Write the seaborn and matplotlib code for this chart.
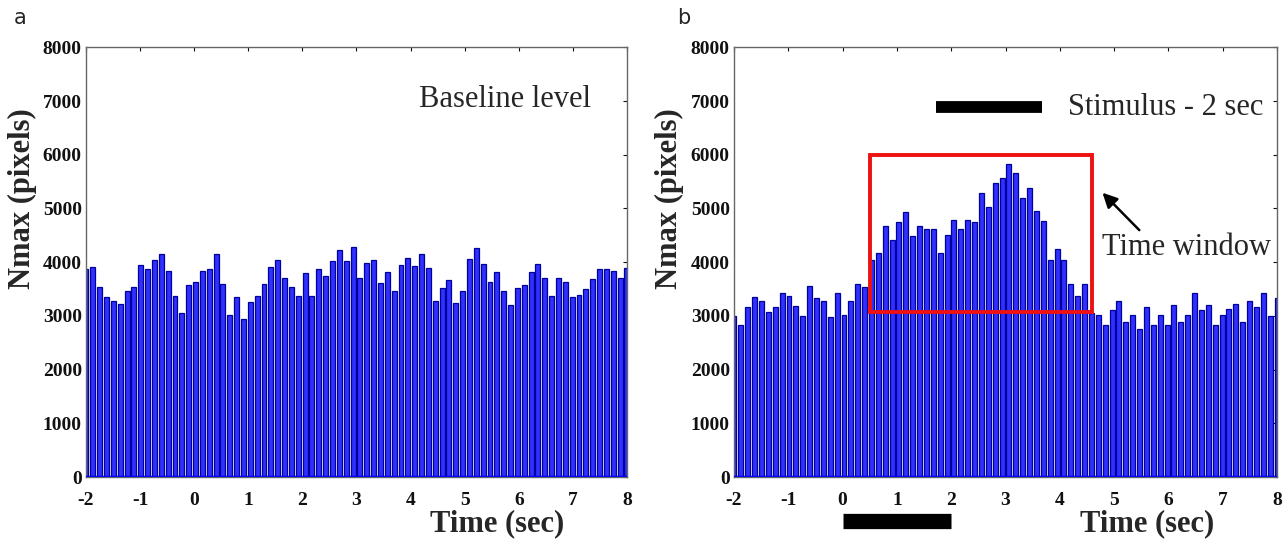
import numpy as np
import matplotlib
matplotlib.use('Agg')
import matplotlib.pyplot as plt
import matplotlib.transforms as mtransforms
from matplotlib.patches import Rectangle
import seaborn as sns

# Nmax per frame (80 frames from -2 s to 8 s)
baseline_vals = [3875, 3906, 3544, 3344, 3281, 3219, 3469, 3544, 3956, 3875,
                 4050, 4144, 3844, 3375, 3063, 3575, 3638, 3844, 3875, 4144,
                 3594, 3013, 3356, 2938, 3263, 3375, 3594, 3906, 4044, 3706,
                 3531, 3375, 3800, 3375, 3875, 3750, 4031, 4231, 4019, 4281,
                 3706, 3988, 4044, 3606, 3813, 3469, 3950, 4081, 3938, 4144,
                 3888, 3281, 3519, 3669, 3238, 3469, 4063, 4263, 3969, 3625,
                 3813, 3469, 3200, 3519, 3581, 3825, 3969, 3706, 3375, 3706,
                 3625, 3344, 3394, 3500, 3688, 3875, 3875, 3831, 3706, 3888]

stimulus_vals = [2990, 2835, 3159, 3346, 3283, 3065, 3159, 3427, 3364, 3177,
                 2990, 3551, 3333, 3283, 2972, 3427, 3009, 3283, 3601, 3539,
                 4037, 4174, 4673, 4405, 4754, 4940, 4486, 4673, 4610, 4610,
                 4174, 4498, 4785, 4623, 4785, 4754, 5296, 5034, 5470, 5563,
                 5825, 5657, 5202, 5389, 4953, 4766, 4050, 4237, 4050, 3601,
                 3364, 3601, 3050, 3022, 2835, 3115, 3283, 2885, 3022, 2754,
                 3159, 2835, 3022, 2835, 3196, 2878, 3022, 3427, 3115, 3196,
                 2835, 3022, 3134, 3221, 2878, 3283, 3159, 3427, 2990, 3333]

time_a = np.linspace(-2, 8, len(baseline_vals))
time_b = np.linspace(-2, 8, len(stimulus_vals))

xticks = list(range(-2, 9))
yticks = list(range(0, 8001, 1000))

stim_window = (0, 2)          # seconds
time_window = (0.5, 4.6)      # seconds
time_window_y = (3080, 6000)  # Nmax

sns.set_style('white')
plt.rcParams['font.family'] = ['Liberation Serif', 'DejaVu Serif']

fig = plt.figure(figsize=(12.85, 5.44), dpi=100)
ax_a = fig.add_axes([0.0669, 0.123, 0.421, 0.790])
ax_b = fig.add_axes([0.5712, 0.123, 0.4226, 0.790])

bar_face = '#3030ff'
bar_edge = '#00009a'

for ax, t, v, xl in [(ax_a, time_a, baseline_vals, 0.760),
                     (ax_b, time_b, stimulus_vals, 0.761)]:
    sns.barplot(x=t, y=v, native_scale=True, width=0.72, color=bar_face,
                saturation=1, edgecolor=bar_edge, linewidth=0.9, ax=ax)
    ax.axhline(0, color='#0000ff', lw=2.5, zorder=3)
    ax.set_xlim(-2, 8)
    ax.set_ylim(0, 8000)
    ax.set_xticks(xticks)
    ax.set_yticks(yticks)
    ax.set_xticklabels([str(x) for x in xticks], fontweight='bold', fontsize=14)
    ax.set_yticklabels([str(y) for y in yticks], fontweight='bold', fontsize=14)
    ax.tick_params(direction='in', length=3, width=0.8, top=True, right=True,
                   colors='#111111')
    ax.tick_params(axis='x', pad=11)
    ax.tick_params(axis='y', pad=3)
    for s in ax.spines.values():
        s.set_color('#666666')
        s.set_linewidth(1.0)
    ax.set_xlabel('')
    ax.set_ylabel('')
    ax.text(xl, -0.109, 'Time (sec)', transform=ax.transAxes, ha='center',
            va='center', fontsize=22, fontweight='bold')
    ax.text(-0.118, 0.649, 'Nmax (pixels)', transform=ax.transAxes, rotation=90,
            ha='center', va='center', fontsize=22, fontweight='bold')

# panel a annotation
ax_a.text(5.74, 7030, 'Baseline level', ha='center', va='center', fontsize=22)

# panel b annotations
ax_b.add_patch(Rectangle((time_window[0], time_window_y[0]),
                         time_window[1] - time_window[0],
                         time_window_y[1] - time_window_y[0],
                         fill=False, edgecolor='#ee1111', lw=2.8, zorder=4))
ax_b.plot([1.72, 3.67], [6880, 6880], color='black', lw=8.5,
          solid_capstyle='butt')
ax_b.text(4.15, 6880, 'Stimulus - 2 sec', ha='left', va='center', fontsize=22)
ax_b.text(4.78, 4270, 'Time window', ha='left', va='center', fontsize=22)
ax_b.annotate('', xy=(4.75, 5330), xytext=(5.5, 4560),
              arrowprops=dict(arrowstyle='-|>', color='black', lw=1.8,
                              mutation_scale=22))
blend = mtransforms.blended_transform_factory(ax_b.transData, ax_b.transAxes)
ax_b.plot(list(stim_window), [-0.102, -0.102], color='black', lw=11,
          solid_capstyle='butt', transform=blend, clip_on=False)

fig.text(0.011, 0.967, 'a', fontsize=15, family='DejaVu Sans', va='center')
fig.text(0.527, 0.967, 'b', fontsize=15, family='DejaVu Sans', va='center')

fig.savefig('out.png', dpi=100)
